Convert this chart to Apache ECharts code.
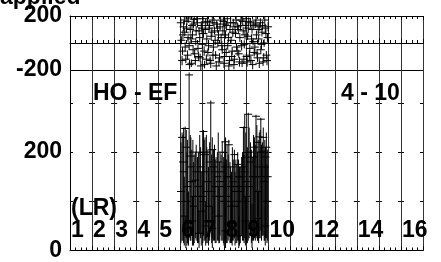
<!DOCTYPE html>
<html>
<head>
<meta charset="utf-8">
<script src="https://cdn.jsdelivr.net/npm/echarts@6/dist/echarts.min.js"></script>
<style>
  html, body { margin: 0; padding: 0; background: #fff; }
  #main { width: 441px; height: 262px; }
</style>
</head>
<body>
<div id="main"></div>
<script>
// top panel: [x, y, yErr]
var topPoints = [
  [5.05, 20, 30], [5.10, -60, 28], [5.15, 120, 32], [5.20, 80, 30], [5.25, -120, 30],
  [5.30, 160, 28], [5.35, 40, 30], [5.40, -20, 32], [5.45, 100, 30], [5.50, -150, 28],
  [5.55, 60, 30], [5.60, 140, 32], [5.65, -80, 30], [5.70, 10, 28], [5.75, 180, 30],
  [5.80, -40, 30], [5.85, 90, 28], [5.90, -110, 30], [5.95, 130, 32], [6.00, -10, 30],
  [6.05, 70, 30], [6.10, -160, 28], [6.15, 150, 30], [6.20, 30, 32], [6.25, -70, 30],
  [6.30, 110, 28], [6.35, -130, 30], [6.40, 50, 30], [6.45, 170, 32], [6.50, -30, 30],
  [6.55, 90, 28], [6.60, -90, 30], [6.65, 140, 30], [6.70, 0, 32], [6.75, -140, 30],
  [6.80, 120, 28], [6.85, 40, 30], [6.90, -50, 30], [6.95, 160, 32], [7.00, -100, 30],
  [7.05, 60, 28], [7.10, 130, 30], [7.15, -20, 30], [7.20, -170, 32], [7.25, 100, 30],
  [7.30, 20, 28], [7.35, -60, 30], [7.40, 150, 30], [7.45, -120, 32], [7.50, 70, 30],
  [7.55, -30, 28], [7.60, 120, 30], [7.65, -80, 30], [7.70, 40, 32], [7.75, 170, 30],
  [7.80, -150, 28], [7.85, 90, 30], [7.90, -10, 30], [7.95, 130, 32], [8.00, -100, 30],
  [8.05, 50, 28], [8.10, 160, 30], [8.15, -40, 30], [8.20, -130, 32], [8.25, 100, 30],
  [8.30, 10, 28], [8.35, -70, 30], [8.40, 140, 30], [8.45, 60, 32], [8.50, -110, 30],
  [8.55, 30, 28], [8.60, 120, 30], [8.65, -50, 30], [8.70, 80, 32], [8.75, -140, 30],
  [8.80, 0, 28], [8.85, 110, 30], [8.90, -90, 30], [8.95, 40, 32],
  [5.02, 150, 35], [5.08, -130, 35], [5.12, 60, 35], [5.18, 170, 35], [5.22, -30, 35],
  [5.28, 110, 35], [5.33, -90, 35], [5.38, 185, 35], [5.42, -160, 35], [5.48, 30, 35],
  [5.53, 130, 35], [5.58, -50, 35], [5.63, 175, 35], [5.68, -130, 35], [5.72, 90, 35],
  [5.78, 150, 35], [5.83, -100, 35], [5.88, 40, 35], [5.93, -170, 35], [5.98, 110, 35],
  [6.03, 180, 35], [6.08, -60, 35], [6.13, 100, 35], [6.18, -120, 35], [6.23, 160, 35],
  [6.28, -20, 35], [6.33, 130, 35], [6.38, -150, 35], [6.43, 80, 35], [6.48, -90, 35],
  [6.53, 150, 35], [6.58, 20, 35], [6.63, -170, 35], [6.68, 110, 35], [6.73, 60, 35],
  [6.78, -110, 35], [6.83, 170, 35], [6.88, -20, 35], [6.93, 90, 35], [6.98, -150, 35],
  [7.03, 140, 35], [7.08, -70, 35], [7.13, 180, 35], [7.18, 40, 35], [7.23, -130, 35],
  [7.28, 150, 35], [7.33, -100, 35], [7.38, 80, 35], [7.43, -160, 35], [7.48, 120, 35],
  [7.53, 170, 35], [7.58, -60, 35], [7.63, 100, 35], [7.68, -140, 35], [7.73, 130, 35],
  [7.78, -20, 35], [7.83, 160, 35], [7.88, -120, 35], [7.93, 60, 35], [7.98, 180, 35],
  [8.03, -140, 35], [8.08, 110, 35], [8.13, -90, 35], [8.18, 150, 35], [8.23, 30, 35],
  [8.28, -160, 35], [8.33, 130, 35], [8.38, -30, 35], [8.43, 170, 35], [8.48, -80, 35],
  [8.53, 100, 35], [8.58, -150, 35], [8.63, 150, 35], [8.68, -10, 35], [8.73, 130, 35],
  [8.78, -110, 35], [8.83, 170, 35], [8.88, 70, 35], [8.93, -130, 35], [8.98, 120, 35]
];

// bottom panel: [x, y, low end, high end]
var bottomPoints = [
  [5.08, 230, 20, 240], [5.15, 160, 15, 250], [5.22, 248, 30, 252], [5.30, 100, 10, 200],
  [5.40, 357, 25, 362], [5.45, 192, 20, 235], [5.52, 140, 30, 205], [5.60, 90, 10, 180],
  [5.68, 143, 25, 200], [5.78, 110, 15, 190], [5.88, 200, 35, 235], [5.95, 80, 10, 160],
  [6.05, 242, 30, 245], [6.12, 195, 20, 230], [6.20, 120, 15, 210], [6.28, 90, 10, 170],
  [6.38, 300, 40, 305], [6.45, 205, 25, 230], [6.55, 160, 20, 215], [6.62, 110, 15, 190],
  [6.72, 180, 20, 240], [6.80, 140, 30, 200], [6.90, 200, 20, 222], [6.98, 100, 10, 180],
  [7.05, 221, 25, 230], [7.12, 150, 15, 215], [7.20, 215, 30, 225], [7.28, 90, 15, 170],
  [7.36, 170, 20, 210], [7.45, 195, 25, 205], [7.52, 120, 15, 185], [7.60, 175, 20, 200],
  [7.68, 100, 10, 170], [7.78, 150, 30, 190], [7.86, 250, 20, 252], [7.92, 160, 25, 277],
  [8.00, 110, 15, 200], [8.08, 277, 20, 280], [8.18, 180, 30, 220], [8.28, 150, 20, 190],
  [8.36, 210, 25, 230], [8.43, 273, 35, 276], [8.50, 120, 20, 200], [8.58, 231, 25, 240],
  [8.65, 267, 40, 270], [8.72, 200, 30, 220], [8.80, 140, 20, 205], [8.86, 190, 25, 210],
  [8.93, 100, 15, 175],
  [5.25, 40, 5, 70], [5.55, 60, 10, 110], [5.85, 35, 5, 80], [6.15, 50, 10, 100],
  [6.45, 45, 5, 90], [6.75, 70, 15, 130], [7.05, 40, 5, 85], [7.35, 55, 10, 100],
  [7.65, 30, 5, 70], [7.95, 60, 10, 110], [8.25, 45, 5, 95], [8.55, 65, 15, 120],
  [8.85, 50, 10, 90],
  [5.03, 120, 15, 220], [5.12, 180, 20, 235], [5.18, 70, 10, 150], [5.27, 210, 25, 245],
  [5.33, 130, 15, 225], [5.37, 60, 10, 120], [5.48, 170, 20, 230], [5.57, 200, 30, 225],
  [5.63, 110, 15, 195], [5.72, 160, 20, 215], [5.82, 130, 15, 200], [5.92, 170, 25, 210],
  [6.02, 110, 15, 200], [6.08, 160, 20, 225], [6.18, 200, 25, 235], [6.25, 140, 15, 205],
  [6.33, 180, 20, 220], [6.42, 120, 15, 195], [6.50, 170, 20, 205], [6.58, 130, 15, 185],
  [6.68, 150, 20, 200], [6.77, 110, 15, 180], [6.85, 160, 20, 195], [6.95, 130, 15, 190],
  [7.02, 170, 20, 200], [7.10, 110, 15, 185], [7.17, 150, 20, 195], [7.25, 130, 15, 180],
  [7.32, 100, 15, 160], [7.40, 140, 20, 185], [7.48, 90, 10, 160], [7.56, 130, 15, 175],
  [7.64, 150, 20, 185], [7.72, 120, 15, 170], [7.82, 170, 20, 200], [7.89, 130, 15, 195],
  [7.97, 190, 20, 240], [8.04, 140, 15, 210], [8.12, 200, 25, 250], [8.22, 130, 15, 205],
  [8.32, 190, 20, 235], [8.40, 150, 20, 215], [8.47, 220, 25, 255], [8.53, 170, 20, 225],
  [8.62, 200, 25, 245], [8.68, 150, 20, 215], [8.76, 230, 30, 250], [8.83, 170, 20, 225],
  [8.90, 210, 25, 240], [8.96, 150, 20, 205]
];

var xErr = 0.18;

// LR labels and where they sit on the x axis
var lrLabels = ['1', '2', '3', '4', '5', '6', '7', '8', '9', '10', '12', '14', '16'];
var lrPos = [0, 1, 2, 3, 4, 5, 6, 7, 8, 9, 11, 13, 15];

var FONT = '"Liberation Sans", Arial, sans-serif';
var FS = 23;

var chart = echarts.init(document.getElementById('main'));

function crossItem(hasRange) {
  return function (params, api) {
    var x = api.value(0), y = api.value(1);
    var lo, hi;
    if (hasRange) { lo = api.value(2); hi = api.value(3); }
    else { lo = y - api.value(2); hi = y + api.value(2); }
    var p1 = api.coord([x, lo]);
    var p2 = api.coord([x, hi]);
    var l = api.coord([x - xErr, y]);
    var r = api.coord([x + xErr, y]);
    var st = { stroke: '#000', lineWidth: 1 };
    return {
      type: 'group',
      children: [
        { type: 'line', shape: { x1: p1[0], y1: p1[1], x2: p2[0], y2: p2[1] }, style: st },
        { type: 'line', shape: { x1: l[0], y1: l[1], x2: r[0], y2: r[1] }, style: st }
      ]
    };
  };
}

var xBase = {
  type: 'value', min: 0, max: 16, interval: 1,
  axisLine: { show: true, lineStyle: { color: '#000', width: 1 } },
  axisTick: { show: true, inside: true, length: 4, lineStyle: { color: '#000' } },
  minorTick: { show: true, splitNumber: 4, length: 3, lineStyle: { color: '#000' } },
  axisLabel: { show: false },
  splitLine: { show: false }
};

var option = {
  animation: false,
  backgroundColor: '#fff',
  grid: [
    { left: 70, top: 16, width: 353, height: 54 },
    { left: 70, top: 70, width: 353, height: 188.5 }
  ],
  xAxis: [
    Object.assign({}, xBase, { gridIndex: 0, position: 'bottom',
      splitLine: { show: true, lineStyle: { color: '#333', width: 1 } } }),
    Object.assign({}, xBase, { gridIndex: 0, position: 'top' }),
    Object.assign({}, xBase, { gridIndex: 1, position: 'bottom',
      splitLine: { show: true, lineStyle: { color: '#333', width: 1 } } })
  ],
  yAxis: [
    {
      type: 'value', gridIndex: 0, min: -200, max: 200, interval: 200,
      axisLine: { show: true, lineStyle: { color: '#000' } },
      axisTick: { show: false },
      axisLabel: { color: '#000', fontFamily: FONT, fontWeight: 'bold', fontSize: FS, margin: 8,
        formatter: function (v) { return v === 0 ? '' : String(v); } },
      splitLine: { show: true, lineStyle: { color: '#000', width: 1 } }
    },
    {
      type: 'value', gridIndex: 1, min: 0, max: 367, interval: 100,
      axisLine: { show: true, lineStyle: { color: '#000' } },
      axisTick: { show: false },
      axisLabel: { color: '#000', fontFamily: FONT, fontWeight: 'bold', fontSize: FS, margin: 8,
        formatter: function (v) { return v % 200 === 0 ? String(v) : ''; } },
      splitLine: { show: true, lineStyle: { color: '#000', width: 1, type: [6, 16.0625], dashOffset: 3 } }
    }
  ],
  series: [
    {
      type: 'custom', xAxisIndex: 0, yAxisIndex: 0, clip: true,
      renderItem: crossItem(false), data: topPoints
    },
    {
      type: 'custom', xAxisIndex: 2, yAxisIndex: 1, clip: true,
      renderItem: crossItem(true), data: bottomPoints
    }
  ]
};

chart.setOption(option);

// text annotations
var txt = function (text, x, y, va) {
  return { type: 'text', x: x, y: y, z: 100,
    style: { text: text, fill: '#000', font: 'bold ' + FS + 'px ' + FONT, verticalAlign: va || 'middle', align: 'left' } };
};
var graphics = [
  txt('applied', 0, 9, 'bottom'),
  txt('HO - EF', 93, 94),
  txt('4 - 10', 341, 94),
  txt('(LR)', 71, 209)
];
for (var i = 0; i < lrLabels.length; i++) {
  var px = chart.convertToPixel({ xAxisIndex: 2 }, lrPos[i]);
  graphics.push(txt(lrLabels[i], px + 1, 231));
}
chart.setOption({ graphic: graphics });
</script>
</body>
</html>
